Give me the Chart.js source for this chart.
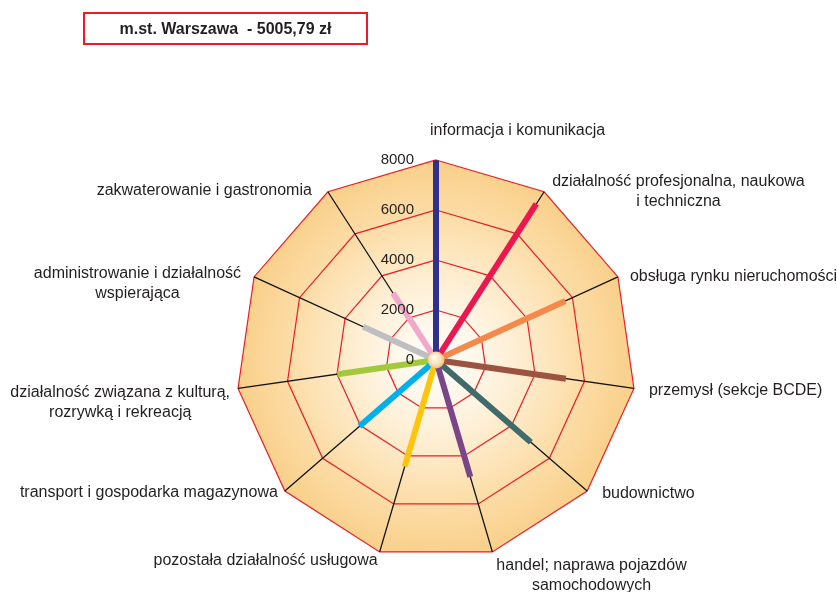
<!DOCTYPE html>
<html>
<head>
<meta charset="utf-8">
<script src="https://cdn.jsdelivr.net/npm/chart.js@4.4.0/dist/chart.umd.min.js"></script>
<style>
  body { margin: 0; background: #fff; }
  #wrap { position: relative; width: 837px; height: 592px; }
  #title {
    position: absolute; left: 83px; top: 12px; width: 281px; height: 29px;
    border: 2px solid #ED1C24; font: bold 16px "Liberation Sans", Arial, sans-serif;
    color: #231F20; text-align: center; line-height: 29px;
  }
  canvas { position: absolute; left: 0; top: 0; }
</style>
</head>
<body>
<div id="wrap">
  <canvas id="myChart" width="837" height="592"></canvas>
  <div id="title">m.st. Warszawa &nbsp;- 5005,79 zł</div>
</div>
<script>
// categories (clockwise from the top)
var categories = [
  ["informacja i komunikacja"],
  ["działalność profesjonalna, naukowa", "i techniczna"],
  ["obsługa rynku nieruchomości"],
  ["przemysł (sekcje BCDE)"],
  ["budownictwo"],
  ["handel; naprawa pojazdów", "samochodowych"],
  ["pozostała działalność usługowa"],
  ["transport i gospodarka magazynowa"],
  ["działalność związana z kulturą,", "rozrywką i rekreacją"],
  ["administrowanie i działalność", "wspierająca"],
  ["zakwaterowanie i gastronomia"]
];

// average salary per section
var values = [7980, 7420, 5690, 5250, 5020, 4870, 4440, 4050, 3990, 3200, 3180];

var tickValues = [0, 2000, 4000, 6000, 8000];

var spokeColors = ["#2E3192", "#EC1650", "#F4894B", "#9A5440", "#3F6B6A", "#7A4689",
  "#FFC40C", "#00B0EC", "#A3C93A", "#BDBFC1", "#F3A8CB"];

// label placement: anchor side and offset from the outer vertex
var labelLayout = [
  { align: "left", dx: -6, dy: -29 },
  { align: "left", dx: 8, dy: -10 },
  { align: "left", dx: 12, dy: 0 },
  { align: "left", dx: 15, dy: 2 },
  { align: "left", dx: 15, dy: 3 },
  { align: "left", dx: 4, dy: 14 },
  { align: "right", dx: -2, dy: 9 },
  { align: "right", dx: -7, dy: 2 },
  { align: "right", dx: -8, dy: 4 },
  { align: "right", dx: -13, dy: -3 },
  { align: "right", dx: -16, dy: -1 }
];

var FONT = '"Liberation Sans", Arial, sans-serif';
var TEXT = "#231F20";

// one dataset per section: zero everywhere but its own spoke
var datasets = values.map(function (v, i) {
  return {
    label: categories[i].join(" "),
    data: values.map(function (_, j) { return j === i ? v : 0; }),
    borderColor: spokeColors[i],
    backgroundColor: spokeColors[i],
    borderWidth: 6,
    borderJoinStyle: "bevel",
    borderCapStyle: "butt",
    pointRadius: 0,
    fill: false
  };
});

var radarDecor = {
  id: "radarDecor",
  beforeDraw: function (chart) {
    var s = chart.scales.r, ctx = chart.ctx;
    var R = s.drawingArea;
    ctx.save();
    var g = ctx.createRadialGradient(s.xCenter, s.yCenter, 0, s.xCenter, s.yCenter, R);
    g.addColorStop(0, "#FFFFFF");
    g.addColorStop(0.35, "#FEF1DA");
    g.addColorStop(0.7, "#FCDEAA");
    g.addColorStop(1, "#F9CF89");
    ctx.beginPath();
    for (var i = 0; i < categories.length; i++) {
      var p = s.getPointPosition(i, R);
      if (i === 0) ctx.moveTo(p.x, p.y); else ctx.lineTo(p.x, p.y);
    }
    ctx.closePath();
    ctx.fillStyle = g;
    ctx.fill();
    ctx.restore();
  },
  afterDatasetsDraw: function (chart) {
    var s = chart.scales.r, ctx = chart.ctx;
    ctx.save();
    // tick labels, left of the vertical axis
    ctx.font = "15px " + FONT;
    ctx.fillStyle = TEXT;
    ctx.textAlign = "right";
    ctx.textBaseline = "middle";
    tickValues.forEach(function (t) {
      var y = s.yCenter - s.getDistanceFromCenterForValue(t);
      ctx.fillText(String(t), s.xCenter - 22, y);
    });
    // center knob
    var cg = ctx.createRadialGradient(s.xCenter - 2, s.yCenter - 3, 1, s.xCenter, s.yCenter, 9);
    cg.addColorStop(0, "#FFFCF0");
    cg.addColorStop(0.6, "#FBE2B6");
    cg.addColorStop(1, "#EDB970");
    ctx.beginPath();
    ctx.arc(s.xCenter, s.yCenter, 8.5, 0, Math.PI * 2);
    ctx.fillStyle = cg;
    ctx.fill();
    // category labels
    ctx.font = "16px " + FONT;
    ctx.fillStyle = TEXT;
    ctx.textAlign = "center";
    categories.forEach(function (lines, i) {
      var p = s.getPointPosition(i, s.drawingArea);
      var L = labelLayout[i];
      var w = Math.max.apply(null, lines.map(function (l) { return ctx.measureText(l).width; }));
      var x0 = p.x + L.dx;
      var cx = L.align === "left" ? x0 + w / 2 : x0 - w / 2;
      lines.forEach(function (l, k) {
        ctx.fillText(l, cx, p.y + L.dy + k * 20);
      });
    });
    ctx.restore();
  }
};

var ctx = document.getElementById("myChart").getContext("2d");
var myChart = new Chart(ctx, {
  type: "radar",
  data: { labels: categories, datasets: datasets },
  options: {
    responsive: false,
    animation: false,
    events: [],
    layout: { padding: { left: 236, right: 201, top: 160, bottom: 32 } },
    plugins: { legend: { display: false }, tooltip: { enabled: false } },
    elements: { line: { tension: 0 } },
    scales: {
      r: {
        min: 0,
        max: 8000,
        ticks: { stepSize: 2000, display: false },
        grid: { color: "#ED1C24", lineWidth: 1.2 },
        angleLines: { color: "#111111", lineWidth: 1.3 },
        pointLabels: { display: false }
      }
    }
  },
  plugins: [radarDecor]
});
</script>
</body>
</html>
